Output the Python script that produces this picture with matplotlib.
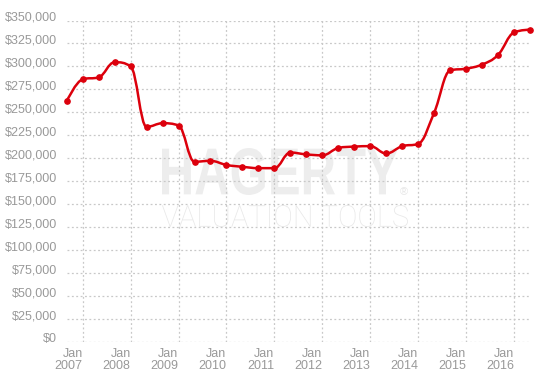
import numpy as np
import matplotlib
matplotlib.use("Agg")
import matplotlib.pyplot as plt
from matplotlib.path import Path
from matplotlib.patches import PathPatch
from matplotlib.textpath import TextPath
from matplotlib.font_manager import FontProperties
from matplotlib.transforms import Affine2D, ScaledTranslation

# valuation every 4 months, starting Sep 2006
start_year = 2006 + 8 / 12
values = [262000, 286000, 288000, 304500, 300000, 234000, 238000, 235500,
          196000, 197000, 192500, 190500, 189000, 189000, 206000, 204000,
          203000, 211000, 212500, 213000, 205000, 213000, 215500, 249500,
          295500, 297500, 302000, 312500, 337000, 340000]
tick_years = list(range(2007, 2017))
tick_labels = [f"Jan\n{y}" for y in tick_years]
y_ticks = list(range(0, 350001, 25000))

W, H = 546, 379
LINE_RED = "#dc000c"
LABEL_GREY = "#999999"


def spline_path(xs, ys):
    # highcharts-style spline (smoothing 1.5)
    n = len(xs)
    left = [(xs[i], ys[i]) for i in range(n)]
    right = [(xs[i], ys[i]) for i in range(n)]
    s = 1.5
    d = s + 1
    for i in range(1, n - 1):
        px, py = xs[i], ys[i]
        lx, ly = xs[i - 1], ys[i - 1]
        nx, ny = xs[i + 1], ys[i + 1]
        lcx = (s * px + lx) / d
        lcy = (s * py + ly) / d
        rcx = (s * px + nx) / d
        rcy = (s * py + ny) / d
        corr = (rcy - lcy) * (rcx - px) / (rcx - lcx) + py - rcy
        lcy += corr
        rcy += corr
        if lcy > ly and lcy > py:
            lcy = max(ly, py)
            rcy = 2 * py - lcy
        elif lcy < ly and lcy < py:
            lcy = min(ly, py)
            rcy = 2 * py - lcy
        if rcy > ny and rcy > py:
            rcy = max(ny, py)
            lcy = 2 * py - rcy
        elif rcy < ny and rcy < py:
            rcy = min(ny, py)
            lcy = 2 * py - rcy
        left[i] = (lcx, lcy)
        right[i] = (rcx, rcy)
    verts = [(xs[0], ys[0])]
    codes = [Path.MOVETO]
    for i in range(1, n):
        verts += [right[i - 1], left[i], (xs[i], ys[i])]
        codes += [Path.CURVE4] * 3
    return Path(verts, codes)


def stamp(ax, text, prop, box, color):
    # watermark text squeezed into a pixel box (x0, top, x1, bottom)
    tp = TextPath((0, 0), text, size=50, prop=prop)
    ext = tp.get_extents()
    x0, top, x1, bottom = box
    sx = (x1 - x0) / ext.width
    sy = (bottom - top) / ext.height
    tr = (Affine2D().translate(-ext.x0, -ext.y0).scale(sx, sy)
          .translate(x0, H - bottom).scale(1 / W, 1 / H)) + ax.figure.transFigure
    ax.add_patch(PathPatch(tp, transform=tr, fc=color, ec="none",
                           zorder=0.1, clip_on=False))


xs = [start_year + i / 3 for i in range(len(values))]

fig = plt.figure(figsize=(W / 100, H / 100), dpi=100)
ax = fig.add_axes([66.7 / W, 1 - 341.5 / H, (530 - 66.7) / W, (341.5 - 20.5) / H])
ax.set_facecolor("white")

stamp(ax, "HAGERTY", FontProperties(family="Liberation Sans", weight="bold"),
      (162, 148, 398, 195), "#ededed")
stamp(ax, "VALUATION TOOLS", FontProperties(family="Roboto", weight="light"),
      (162, 205, 408, 227), "#e8e8e8")
fig.text(400 / W, 1 - 195 / H, "\u00ae", fontsize=8, color="#e6e6e6",
         family="Liberation Sans", ha="left", va="baseline", zorder=0)

ax.add_patch(PathPatch(spline_path(xs, values), fc="none", ec=LINE_RED,
                       lw=1.8, zorder=3, capstyle="round", joinstyle="round",
                       clip_on=False))
ax.plot(xs, values, ls="none", marker="o", ms=3.8, color=LINE_RED, zorder=4,
        clip_on=False)

ax.set_xlim(xs[0], xs[-1])
ax.set_ylim(0, 350000)
ax.set_xticks(tick_years)
ax.set_xticklabels(tick_labels)
ax.set_yticks(y_ticks)
ax.set_yticklabels([f"${v:,}" for v in y_ticks])

for sp in ax.spines.values():
    sp.set_visible(False)
ax.grid(True, color="#c8c8c8", lw=0.9, ls=(0, (1.5, 2)))
ax.tick_params(length=0, labelsize=9, labelcolor=LABEL_GREY)
ax.tick_params(axis="y", pad=7)
ax.tick_params(axis="x", pad=5)
for lab in ax.get_xticklabels():
    lab.set_ha("right")
    lab.set_family("Liberation Sans")
    lab.set_linespacing(1.0)
for lab in ax.get_yticklabels():
    lab.set_family("Liberation Sans")
    lab.set_transform(lab.get_transform() + ScaledTranslation(0, 4 / 100, fig.dpi_scale_trans))

fig.savefig("out.png", dpi=100)
